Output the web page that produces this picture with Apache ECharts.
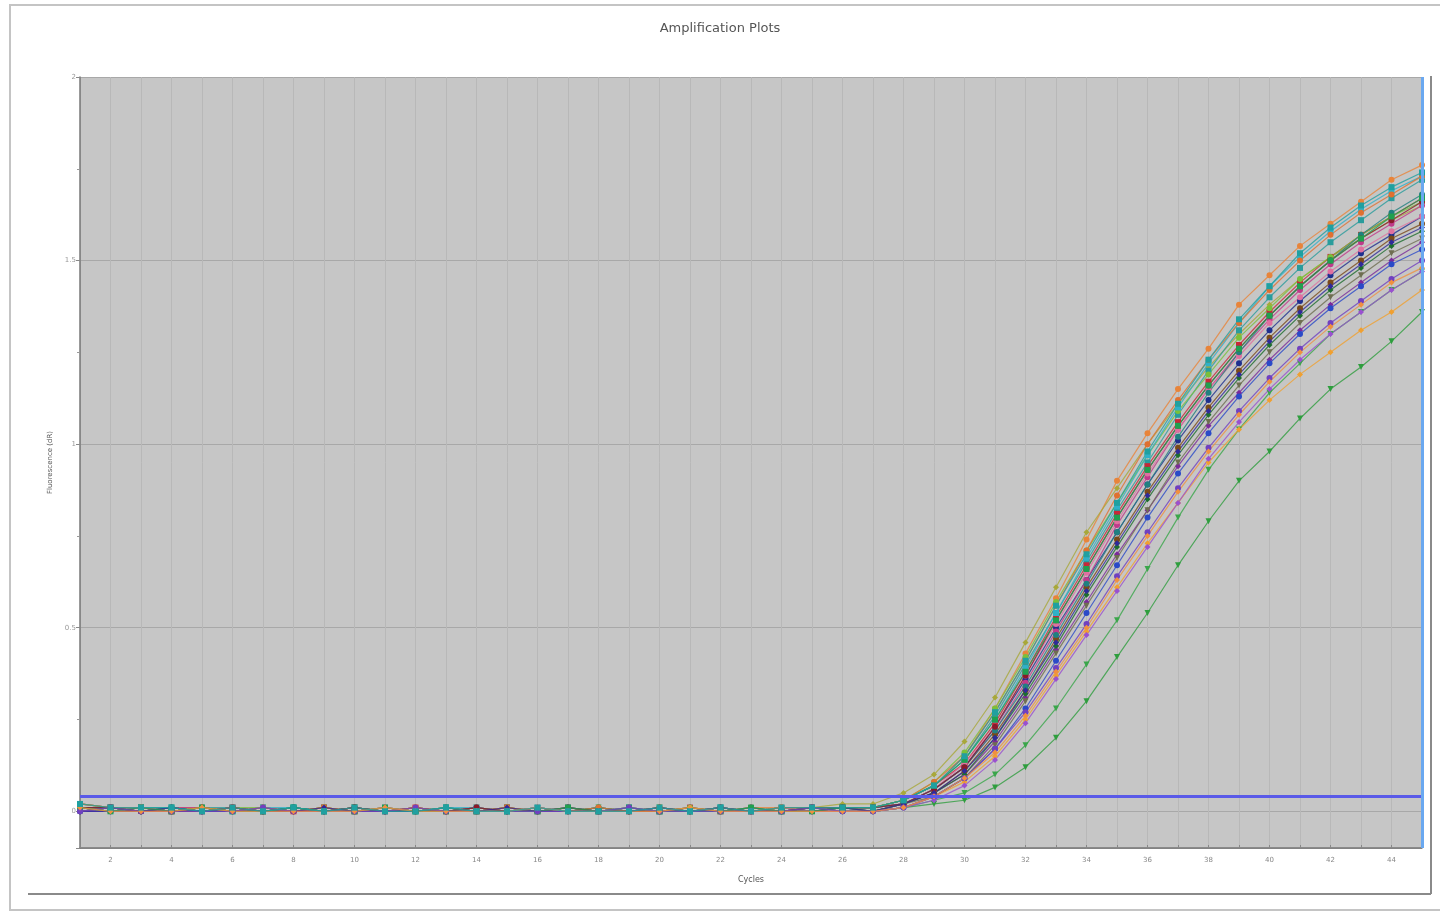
<!DOCTYPE html>
<html>
<head>
<meta charset="utf-8">
<title>Amplification Plots</title>
<script src="https://cdn.jsdelivr.net/npm/echarts@6/dist/echarts.min.js"></script>
<style>
  html, body { margin: 0; padding: 0; background: #f2f2f2; }
  #chart { width: 1440px; height: 913px; }
</style>
</head>
<body>
<div id="chart"></div>
<script>
// cycle numbers on the x axis
const cycles = ['1','2','3','4','5','6','7','8','9','10','11','12','13','14','15',
  '16','17','18','19','20','21','22','23','24','25','26','27','28','29','30',
  '31','32','33','34','35','36','37','38','39','40','41','42','43','44','45']

const threshold = 0.04

// fluorescence (dR) per well, cycles 1..45
const wellA1 = [0.02,0.01,0.01,0.01,0.01,0.00,0.00,0.01,0.00,0.00,0.00,0.01,0.00,0.00,0.01,0.00,0.00,0.00,0.01,0.00,0.00,0.00,0.01,0.01,0.00,0.01,
  0.01,0.03,0.07,0.15,0.28,0.43,0.58,0.74,0.90,1.03,1.15,1.26,1.38,1.46,1.54,1.60,1.66,1.72,1.76]
const wellA2 = [0.01,0.01,0.00,0.01,0.00,0.01,0.00,0.00,0.01,0.00,0.01,0.00,0.00,0.01,0.00,0.00,0.01,0.00,0.00,0.00,0.01,0.00,0.00,0.01,0.01,0.02,
  0.02,0.05,0.10,0.19,0.31,0.46,0.61,0.76,0.88,1.00,1.11,1.21,1.30,1.38,1.45,1.51,1.56,1.61,1.65]
const wellA3 = [0.00,0.00,0.01,0.00,0.00,0.00,0.01,0.00,0.00,0.01,0.00,0.00,0.00,0.00,0.01,0.00,0.00,0.00,0.00,0.01,0.00,0.00,0.00,0.00,0.00,0.00,
  0.00,0.01,0.02,0.03,0.065,0.12,0.20,0.30,0.42,0.54,0.67,0.79,0.90,0.98,1.07,1.15,1.21,1.28,1.36]
const wellA4 = [0.01,0.00,0.00,0.01,0.00,0.00,0.00,0.00,0.01,0.00,0.00,0.00,0.01,0.00,0.00,0.00,0.00,0.01,0.00,0.00,0.00,0.01,0.00,0.00,0.00,0.00,
  0.00,0.01,0.03,0.05,0.10,0.18,0.28,0.40,0.52,0.66,0.80,0.93,1.04,1.14,1.22,1.30,1.36,1.42,1.47]
const wellA5 = [0.01,0.01,0.01,0.00,0.01,0.01,0.00,0.01,0.00,0.00,0.01,0.00,0.01,0.00,0.00,0.01,0.00,0.00,0.01,0.00,0.00,0.01,0.00,0.01,0.01,0.01,
  0.01,0.03,0.07,0.14,0.26,0.40,0.54,0.68,0.82,0.95,1.08,1.20,1.31,1.40,1.48,1.55,1.61,1.67,1.72]
const wellA6 = [0.00,0.00,0.00,0.00,0.00,0.01,0.00,0.00,0.00,0.00,0.00,0.00,0.00,0.01,0.00,0.00,0.00,0.00,0.00,0.00,0.01,0.00,0.00,0.00,0.01,0.01,
  0.01,0.02,0.06,0.12,0.23,0.36,0.50,0.63,0.76,0.89,1.01,1.12,1.22,1.31,1.39,1.46,1.52,1.57,1.62]
const wellB1 = [0.01,0.00,0.01,0.00,0.00,0.00,0.00,0.01,0.00,0.01,0.00,0.00,0.00,0.00,0.00,0.01,0.00,0.01,0.00,0.00,0.00,0.00,0.00,0.00,0.00,0.01,
  0.00,0.02,0.05,0.10,0.19,0.31,0.44,0.57,0.70,0.82,0.94,1.05,1.14,1.23,1.31,1.38,1.44,1.50,1.55]
const wellB2 = [0.02,0.01,0.00,0.01,0.01,0.00,0.01,0.00,0.00,0.00,0.01,0.00,0.00,0.01,0.00,0.00,0.00,0.00,0.01,0.00,0.00,0.00,0.01,0.00,0.01,0.01,
  0.01,0.02,0.06,0.12,0.22,0.35,0.49,0.63,0.78,0.91,1.04,1.15,1.25,1.34,1.42,1.49,1.55,1.60,1.65]
const wellB3 = [0.01,0.01,0.01,0.00,0.00,0.01,0.00,0.00,0.01,0.00,0.00,0.01,0.00,0.00,0.01,0.00,0.01,0.00,0.00,0.00,0.01,0.00,0.00,0.00,0.01,0.01,
  0.01,0.03,0.07,0.13,0.24,0.38,0.53,0.67,0.81,0.94,1.06,1.17,1.27,1.36,1.44,1.51,1.57,1.62,1.67]
const wellB4 = [0.00,0.01,0.00,0.00,0.01,0.00,0.00,0.00,0.00,0.01,0.00,0.00,0.01,0.00,0.00,0.00,0.00,0.00,0.00,0.01,0.00,0.00,0.00,0.01,0.00,0.00,
  0.00,0.02,0.05,0.11,0.21,0.33,0.47,0.61,0.74,0.87,0.99,1.10,1.20,1.29,1.37,1.44,1.50,1.56,1.60]
const wellB5 = [0.01,0.00,0.00,0.01,0.00,0.00,0.01,0.00,0.00,0.00,0.00,0.01,0.00,0.00,0.00,0.01,0.00,0.00,0.00,0.00,0.00,0.01,0.00,0.00,0.00,0.01,
  0.00,0.02,0.05,0.10,0.20,0.32,0.45,0.59,0.72,0.85,0.97,1.08,1.18,1.27,1.35,1.42,1.48,1.54,1.58]
const wellB6 = [0.02,0.01,0.01,0.01,0.00,0.01,0.01,0.00,0.01,0.00,0.00,0.00,0.01,0.00,0.01,0.00,0.00,0.01,0.00,0.00,0.01,0.00,0.00,0.01,0.01,0.01,
  0.01,0.03,0.08,0.16,0.28,0.42,0.57,0.71,0.84,0.97,1.09,1.19,1.29,1.37,1.45,1.51,1.57,1.62,1.66]
const wellC1 = [0.00,0.00,0.00,0.00,0.00,0.00,0.00,0.01,0.00,0.00,0.00,0.00,0.00,0.00,0.00,0.00,0.01,0.00,0.00,0.00,0.00,0.00,0.00,0.00,0.00,0.00,
  0.00,0.01,0.04,0.09,0.17,0.28,0.41,0.54,0.67,0.80,0.92,1.03,1.13,1.22,1.30,1.37,1.43,1.49,1.53]
const wellC2 = [0.01,0.01,0.00,0.00,0.01,0.00,0.00,0.00,0.01,0.00,0.01,0.00,0.00,0.00,0.01,0.00,0.00,0.00,0.00,0.00,0.00,0.00,0.01,0.00,0.00,0.00,
  0.00,0.01,0.04,0.08,0.15,0.25,0.37,0.49,0.61,0.73,0.84,0.95,1.04,1.12,1.19,1.25,1.31,1.36,1.42]
const wellC3 = [0.01,0.01,0.01,0.01,0.00,0.00,0.01,0.01,0.00,0.01,0.00,0.00,0.01,0.01,0.00,0.00,0.01,0.00,0.01,0.00,0.00,0.01,0.00,0.00,0.01,0.01,
  0.01,0.03,0.07,0.14,0.25,0.39,0.54,0.69,0.83,0.97,1.10,1.22,1.33,1.43,1.51,1.58,1.64,1.69,1.73]
const wellC4 = [0.01,0.00,0.01,0.00,0.00,0.01,0.00,0.00,0.00,0.00,0.01,0.00,0.00,0.00,0.00,0.01,0.00,0.00,0.01,0.00,0.00,0.00,0.00,0.01,0.00,0.01,
  0.01,0.02,0.06,0.13,0.23,0.37,0.51,0.65,0.79,0.92,1.04,1.15,1.24,1.33,1.40,1.47,1.53,1.58,1.62]
const wellC5 = [0.00,0.01,0.00,0.00,0.00,0.00,0.00,0.00,0.00,0.01,0.00,0.00,0.00,0.01,0.00,0.00,0.00,0.00,0.00,0.00,0.00,0.00,0.00,0.00,0.00,0.01,
  0.00,0.02,0.04,0.09,0.18,0.30,0.43,0.56,0.69,0.82,0.95,1.06,1.16,1.25,1.33,1.40,1.46,1.52,1.56]
const wellC6 = [0.00,0.00,0.01,0.00,0.00,0.00,0.00,0.00,0.00,0.00,0.00,0.00,0.00,0.00,0.00,0.00,0.00,0.00,0.00,0.00,0.00,0.01,0.00,0.00,0.00,0.00,
  0.00,0.01,0.03,0.07,0.14,0.24,0.36,0.48,0.60,0.72,0.84,0.96,1.06,1.15,1.23,1.30,1.36,1.42,1.47]
const wellD1 = [0.01,0.01,0.00,0.01,0.00,0.00,0.00,0.01,0.00,0.00,0.00,0.00,0.01,0.00,0.00,0.00,0.00,0.01,0.00,0.00,0.00,0.00,0.01,0.00,0.01,0.01,
  0.01,0.02,0.06,0.12,0.22,0.34,0.48,0.62,0.76,0.89,1.02,1.14,1.25,1.35,1.43,1.50,1.57,1.63,1.68]
const wellD2 = [0.02,0.01,0.01,0.00,0.01,0.00,0.01,0.00,0.01,0.00,0.00,0.01,0.00,0.00,0.01,0.00,0.00,0.01,0.00,0.01,0.00,0.00,0.00,0.01,0.01,0.01,
  0.01,0.03,0.08,0.15,0.27,0.41,0.56,0.71,0.86,1.00,1.12,1.23,1.33,1.42,1.50,1.57,1.63,1.68,1.73]
const wellD3 = [0.01,0.01,0.00,0.00,0.00,0.01,0.00,0.00,0.00,0.01,0.00,0.00,0.00,0.01,0.00,0.00,0.01,0.00,0.00,0.00,0.00,0.01,0.00,0.00,0.01,0.01,
  0.01,0.02,0.06,0.12,0.23,0.37,0.52,0.66,0.80,0.93,1.05,1.16,1.26,1.35,1.43,1.50,1.56,1.61,1.66]
const wellD4 = [0.00,0.00,0.00,0.01,0.00,0.00,0.00,0.00,0.01,0.00,0.00,0.00,0.00,0.00,0.01,0.00,0.00,0.00,0.00,0.01,0.00,0.00,0.00,0.00,0.00,0.01,
  0.00,0.02,0.05,0.11,0.20,0.33,0.46,0.60,0.73,0.86,0.98,1.09,1.19,1.28,1.36,1.43,1.49,1.55,1.59]
const wellD5 = [0.01,0.00,0.01,0.00,0.01,0.00,0.00,0.01,0.00,0.00,0.01,0.00,0.00,0.00,0.00,0.00,0.01,0.00,0.01,0.00,0.00,0.00,0.01,0.00,0.00,0.01,
  0.01,0.03,0.07,0.14,0.25,0.38,0.52,0.66,0.80,0.93,1.05,1.16,1.26,1.35,1.43,1.50,1.56,1.62,1.67]
const wellD6 = [0.00,0.01,0.00,0.00,0.00,0.00,0.01,0.00,0.00,0.00,0.00,0.01,0.00,0.00,0.00,0.00,0.00,0.00,0.01,0.00,0.00,0.00,0.00,0.00,0.01,0.00,
  0.00,0.01,0.04,0.09,0.17,0.27,0.39,0.51,0.64,0.76,0.88,0.99,1.09,1.18,1.26,1.33,1.39,1.45,1.50]
const wellE1 = [0.01,0.00,0.00,0.00,0.01,0.00,0.00,0.00,0.00,0.00,0.01,0.00,0.00,0.00,0.00,0.01,0.00,0.00,0.00,0.00,0.01,0.00,0.00,0.00,0.00,0.00,
  0.00,0.01,0.04,0.09,0.16,0.26,0.38,0.50,0.63,0.75,0.87,0.98,1.08,1.17,1.25,1.32,1.38,1.44,1.48]
const wellE2 = [0.02,0.01,0.01,0.01,0.00,0.01,0.00,0.01,0.00,0.01,0.00,0.00,0.01,0.00,0.00,0.01,0.00,0.00,0.00,0.01,0.00,0.01,0.00,0.01,0.01,0.01,
  0.01,0.03,0.07,0.15,0.27,0.41,0.56,0.70,0.84,0.98,1.11,1.23,1.34,1.43,1.52,1.59,1.65,1.70,1.74]

const wellNames = ['A1','A2','A3','A4','A5','A6','B1','B2','B3','B4','B5','B6','C1','C2','C3','C4','C5','C6',
  'D1','D2','D3','D4','D5','D6','E1','E2']
const wellData = [wellA1, wellA2, wellA3, wellA4, wellA5, wellA6, wellB1, wellB2, wellB3, wellB4,
  wellB5, wellB6, wellC1, wellC2, wellC3, wellC4, wellC5, wellC6, wellD1, wellD2,
  wellD3, wellD4, wellD5, wellD6, wellE1, wellE2]
const wellColors = ['#e8843a','#a8a83a','#2f9e3e','#3aa64a','#2a9c9c','#1f2f8f','#7a2a9a','#c03a8a','#c82838','#7a4a1a',
  '#1e6e2e','#7ac03a','#2a4ac8','#f0a030','#30b0c8','#e070a0','#6e6e50','#9a50d0','#208080','#e07030',
  '#8a1a2a','#302a9a','#20a050','#7040c0','#f09040','#20a0a0']
const wellSymbols = ['circle','diamond','triangle','triangle','rect','circle','diamond','circle','rect','circle',
  'diamond','circle','circle','diamond','rect','circle','triangle','diamond','circle','circle',
  'circle','diamond','rect','circle','diamond','rect']

const chart = echarts.init(document.getElementById('chart'))

const series = wellData.map((d, i) => ({
  name: wellNames[i],
  type: 'line',
  data: d,
  symbol: wellSymbols[i],
  symbolSize: 6,
  symbolRotate: wellSymbols[i] === 'triangle' ? 180 : 0,
  lineStyle: { width: 1.2, color: wellColors[i], opacity: 0.8 },
  itemStyle: { color: wellColors[i] },
  emphasis: { disabled: true },
  z: 3
}))

// threshold + end-of-run marker lines
series.push({
  name: 'Threshold',
  type: 'line',
  data: [],
  markLine: {
    silent: true,
    symbol: 'none',
    label: { show: false },
    data: [
      { yAxis: threshold, lineStyle: { color: '#5a5ae8', width: 3, type: 'solid' } },
      { xAxis: '45', lineStyle: { color: '#6aa8f0', width: 3, type: 'solid' } }
    ]
  },
  z: 4
})

const option = {
  animation: false,
  backgroundColor: '#ffffff',
  title: {
    text: 'Amplification Plots',
    left: 'center',
    top: 17,
    textStyle: { fontFamily: 'DejaVu Sans', fontSize: 13, fontWeight: 'normal', color: '#555' }
  },
  grid: {
    left: 80, right: 18, top: 77, bottom: 65,
    show: true,
    backgroundColor: '#c6c6c6',
    borderWidth: 0
  },
  xAxis: {
    type: 'category',
    data: cycles,
    boundaryGap: false,
    name: 'Cycles',
    nameLocation: 'middle',
    nameGap: 28,
    nameTextStyle: { fontFamily: 'DejaVu Sans', fontSize: 8, color: '#555' },
    axisLine: { onZero: false, lineStyle: { color: '#777', width: 1.5 } },
    axisTick: { show: true, interval: 0, length: 3, inside: true, lineStyle: { color: '#888' } },
    axisLabel: {
      interval: (i, v) => Number(v) % 2 === 0,
      fontFamily: 'DejaVu Sans', fontSize: 7, color: '#888', margin: 9
    },
    splitLine: { show: true, interval: 0, lineStyle: { color: '#b8b8b8', width: 1 } }
  },
  yAxis: {
    type: 'value',
    min: -0.1,
    max: 2.0,
    splitNumber: 4,
    name: 'Fluorescence (dR)',
    nameLocation: 'middle',
    nameGap: 22,
    nameTextStyle: { fontFamily: 'DejaVu Sans', fontSize: 7, color: '#555' },
    axisLine: { show: true, lineStyle: { color: '#777', width: 1.5 } },
    axisTick: { show: true, length: 4, lineStyle: { color: '#888' } },
    minorTick: { show: true, splitNumber: 2, length: 3, lineStyle: { color: '#999' } },
    axisLabel: { showMinLabel: false, fontFamily: 'DejaVu Sans', fontSize: 7, color: '#999', margin: 4 },
    splitLine: { show: true, lineStyle: { color: '#a8a8a8', width: 1 } }
  },
  graphic: [
    // window frame around the chart
    { type: 'rect', shape: { x: 10, y: 5, width: 1440, height: 905 }, style: { fill: 'none', stroke: '#c4c4c4', lineWidth: 2 }, silent: true },
    { type: 'line', shape: { x1: 28, y1: 894, x2: 1431, y2: 894 }, style: { stroke: '#8a8a8a', lineWidth: 2 }, silent: true },
    { type: 'line', shape: { x1: 1431, y1: 76, x2: 1431, y2: 894 }, style: { stroke: '#8a8a8a', lineWidth: 2 }, silent: true }
  ],
  series: series
}

chart.setOption(option)
</script>
</body>
</html>
